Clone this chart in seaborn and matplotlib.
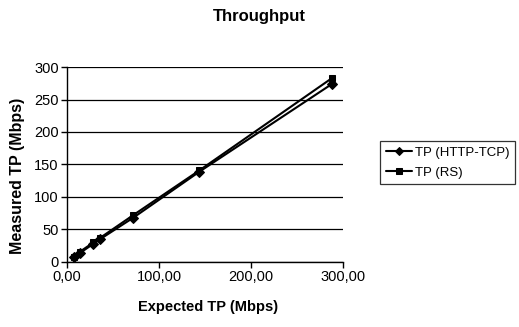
import matplotlib
matplotlib.use("Agg")
import matplotlib.pyplot as plt
import seaborn as sns
import pandas as pd

expected = [7.2, 14.4, 28.8, 36.0, 72.0, 144.0, 288.0]
tp_http = [7, 14, 28, 35, 68, 139, 274]
tp_rs = [8, 16, 30, 37, 72, 141, 283]
series_names = ["TP (HTTP-TCP)", "TP (RS)"]
xticks = [0, 100, 200, 300]
xtick_labels = ["0,00", "100,00", "200,00", "300,00"]
yticks = [0, 50, 100, 150, 200, 250, 300]

df = pd.DataFrame({
    "Expected": expected * 2,
    "Measured": tp_http + tp_rs,
    "Series": [series_names[0]] * len(expected) + [series_names[1]] * len(expected),
})

sns.set_style("white")
plt.rcParams["font.family"] = ["Liberation Sans", "DejaVu Sans"]
plt.rcParams["text.color"] = "black"
plt.rcParams["axes.labelcolor"] = "black"
plt.rcParams["xtick.color"] = "black"
plt.rcParams["ytick.color"] = "black"

fig = plt.figure(figsize=(5.19, 3.27), dpi=100)
ax = fig.add_axes([0.129, 0.199, 0.532, 0.596])

sns.lineplot(data=df, x="Expected", y="Measured", hue="Series", style="Series",
             markers={series_names[0]: "D", series_names[1]: "s"},
             dashes=False, palette=["black", "black"], ax=ax, linewidth=1.5,
             markersize=5, markeredgecolor="black", legend=True)

ax.set_xlim(0, 300)
ax.set_ylim(0, 300)
ax.set_xticks(xticks)
ax.set_xticklabels(xtick_labels)
ax.set_yticks(yticks)
ax.yaxis.grid(True, color="black", linewidth=0.9)
ax.set_axisbelow(True)
for s in ["top", "right"]:
    ax.spines[s].set_visible(False)
for s in ["left", "bottom"]:
    ax.spines[s].set_color("black")
    ax.spines[s].set_linewidth(1.0)
ax.tick_params(axis="both", direction="out", length=4, width=1, color="black",
               labelcolor="black", labelsize=10.5, pad=2, bottom=True, left=True)
ax.set_xlabel("Expected TP (Mbps)", fontsize=10.5, fontweight="bold", va="center",
              color="black")
ax.set_ylabel("Measured TP (Mbps)", fontsize=11.5, fontweight="bold", va="center",
              color="black")
ax.xaxis.set_label_coords(0.51, -0.23)
ax.yaxis.set_label_coords(-0.178, 0.44)
fig.text(0.5, 0.95, "Throughput", fontsize=12, fontweight="bold",
         ha="center", va="center", color="black")

leg = ax.legend(loc="upper left", bbox_to_anchor=(1.11, 0.655), frameon=True,
                fancybox=False, edgecolor="black", fontsize=9.5, handlelength=2.0,
                handletextpad=0.2, borderpad=0.45, labelspacing=0.55, markerscale=0.8)
leg.get_frame().set_linewidth(0.9)
for t in leg.get_texts():
    t.set_color("black")

fig.savefig("out.png", dpi=100, facecolor="white")
